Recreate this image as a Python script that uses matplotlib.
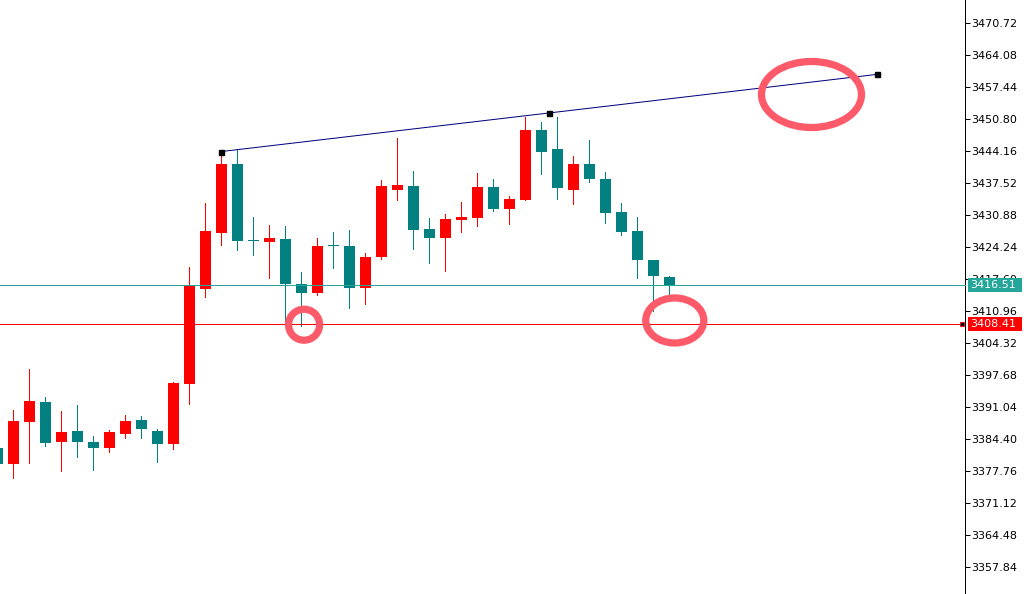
import matplotlib
matplotlib.use("Agg")
import matplotlib.pyplot as plt
from matplotlib.patches import Ellipse, Rectangle
import matplotlib.transforms as mtransforms
import numpy as np

# ---- data (OHLC, bar index 0..42) ----
opens = [3382.60, 3379.34, 3388.06, 3392.14, 3383.91, 3386.13, 3383.84, 3382.66, 3385.57, 3388.41,
         3386.13, 3383.49, 3395.88, 3415.65, 3427.27, 3441.53, 3425.70, 3425.41, 3425.97, 3416.53,
         3414.82, 3424.55, 3424.51, 3415.86, 3422.29, 3436.20, 3436.96, 3428.10, 3426.24, 3429.97,
         3430.39, 3436.76, 3432.25, 3434.12, 3448.65, 3444.64, 3436.20, 3441.59, 3438.48, 3431.63,
         3427.69, 3421.61, 3418.08]
highs = [3383.40, 3390.48, 3398.99, 3393.25, 3390.28, 3391.52, 3385.09, 3386.33, 3389.45, 3389.24,
         3386.54, 3396.29, 3420.22, 3433.50, 3444.12, 3444.58, 3430.59, 3428.87, 3428.66, 3419.12,
         3426.24, 3427.48, 3427.83, 3423.06, 3438.21, 3446.99, 3440.14, 3430.39, 3431.22, 3433.71,
         3439.72, 3438.48, 3434.95, 3451.34, 3450.24, 3451.34, 3443.25, 3446.57, 3439.93, 3433.50,
         3430.59, 3421.70, 3418.35]
lows = [3377.50, 3376.44, 3379.55, 3383.08, 3377.89, 3380.73, 3378.10, 3381.83, 3384.74, 3384.74,
        3379.76, 3382.45, 3391.79, 3413.99, 3424.78, 3423.75, 3422.71, 3417.94, 3408.60, 3407.91,
        3414.41, 3420.01, 3411.71, 3412.54, 3421.88, 3434.12, 3423.95, 3421.05, 3419.39, 3427.48,
        3428.73, 3431.84, 3429.14, 3434.00, 3439.52, 3434.33, 3433.29, 3437.86, 3429.35, 3426.86,
        3417.94, 3411.00, 3413.50]
closes = [3379.34, 3388.20, 3392.35, 3383.70, 3385.92, 3383.91, 3382.66, 3385.92, 3388.20, 3386.60,
          3383.49, 3396.09, 3416.48, 3427.69, 3441.53, 3425.61, 3425.55, 3426.17, 3416.53, 3414.82,
          3424.51, 3424.45, 3415.86, 3422.23, 3436.96, 3437.17, 3427.90, 3426.24, 3430.18, 3430.59,
          3436.76, 3432.25, 3434.27, 3448.65, 3444.08, 3436.61, 3441.59, 3438.48, 3431.42, 3427.48,
          3421.67, 3418.35, 3416.51]

bid_price = 3416.51
ask_price = 3408.41

# trendline anchors (bar index, price)
trend_x = [14, 55]
trend_y = [3444.12, 3460.14]

# annotation ellipses: (bar x, price, width in bars, height in price)
ellipses = [(50.875, 3455.95, 6.25, 13.7),
            (19.16, 3408.18, 1.94, 6.43),
            (42.33, 3409.06, 3.63, 9.34)]

tick_values = [3357.84 + 6.64 * i for i in range(18)]

# ---- styles ----
UP = "#ff0000"
DOWN = "#008080"
TEAL_LINE = "#26a69a"
RING = "#ff5a69"

fig = plt.figure(figsize=(10.34, 5.94), dpi=100)
ax = fig.add_axes([0, 0, 965 / 1034, 1])
ax.set_xlim(0.15625, 60.47)
ax.set_ylim(3352.30, 3475.56)

px = 72 / 100  # one pixel in points
idx = np.arange(len(opens))
o = np.array(opens); c = np.array(closes); h = np.array(highs); l = np.array(lows)
colors = [UP if cc >= oo else DOWN for oo, cc in zip(o, c)]

ax.vlines(idx, l, h, colors=colors, linewidth=px, antialiased=False, zorder=2)
bottoms = np.minimum(o, c)
heights = np.maximum(np.abs(c - o), 0.21)
ax.bar(idx, heights, bottom=bottoms, width=0.6875, color=colors, linewidth=0,
       antialiased=False, zorder=3)

# horizontal price lines
trans = mtransforms.blended_transform_factory(ax.transAxes, ax.transData)
ax.plot([0, 1], [bid_price, bid_price], color=TEAL_LINE, lw=px, transform=trans,
        clip_on=False, zorder=4)
ax.plot([0, 0.9948], [ask_price, ask_price], color=UP, lw=px, transform=trans,
        clip_on=False, zorder=4)
ax.plot([0.9969], [ask_price], marker="s", ms=3.2, mfc="black", mec=UP, mew=0.6,
        transform=trans, clip_on=False, zorder=5)

# trendline
ax.plot(trend_x, trend_y, color="#000080", lw=px, zorder=5)
ax.plot(trend_x + [np.mean(trend_x)], trend_y + [np.mean(trend_y)], ls="none",
        marker="s", ms=3.6, mfc="black", mec="black", zorder=6)

# ellipses
for ex, ey, ew, eh in ellipses:
    ax.add_patch(Ellipse((ex, ey), ew, eh, fill=False, edgecolor=RING, lw=5.2, zorder=7))

# axes styling
for s in ["top", "left", "bottom"]:
    ax.spines[s].set_visible(False)
ax.spines["right"].set_color("black")
ax.spines["right"].set_linewidth(px)
ax.set_xticks([])
ax.yaxis.tick_right()
ax.set_yticks(tick_values)
ax.set_yticklabels([f"{v:.2f}" for v in tick_values])
ax.tick_params(axis="y", direction="out", length=3.6, width=px, pad=1.0,
               labelsize=8, colors="black")

# price labels on the axis
box_w = 54 / 965
box_h = 14 * (3475.56 - 3352.30) / 594
for price, col in [(bid_price, TEAL_LINE), (ask_price, UP)]:
    ax.add_patch(Rectangle((1.0031, price - box_h / 2), box_w, box_h, transform=trans,
                           facecolor=col, edgecolor="none", clip_on=False, zorder=8))
    ax.text(1.0055, price, f"{price:.2f}", transform=trans, color="white", fontsize=8,
            va="center", ha="left", clip_on=False, zorder=9)

fig.savefig("out.png", dpi=100)
